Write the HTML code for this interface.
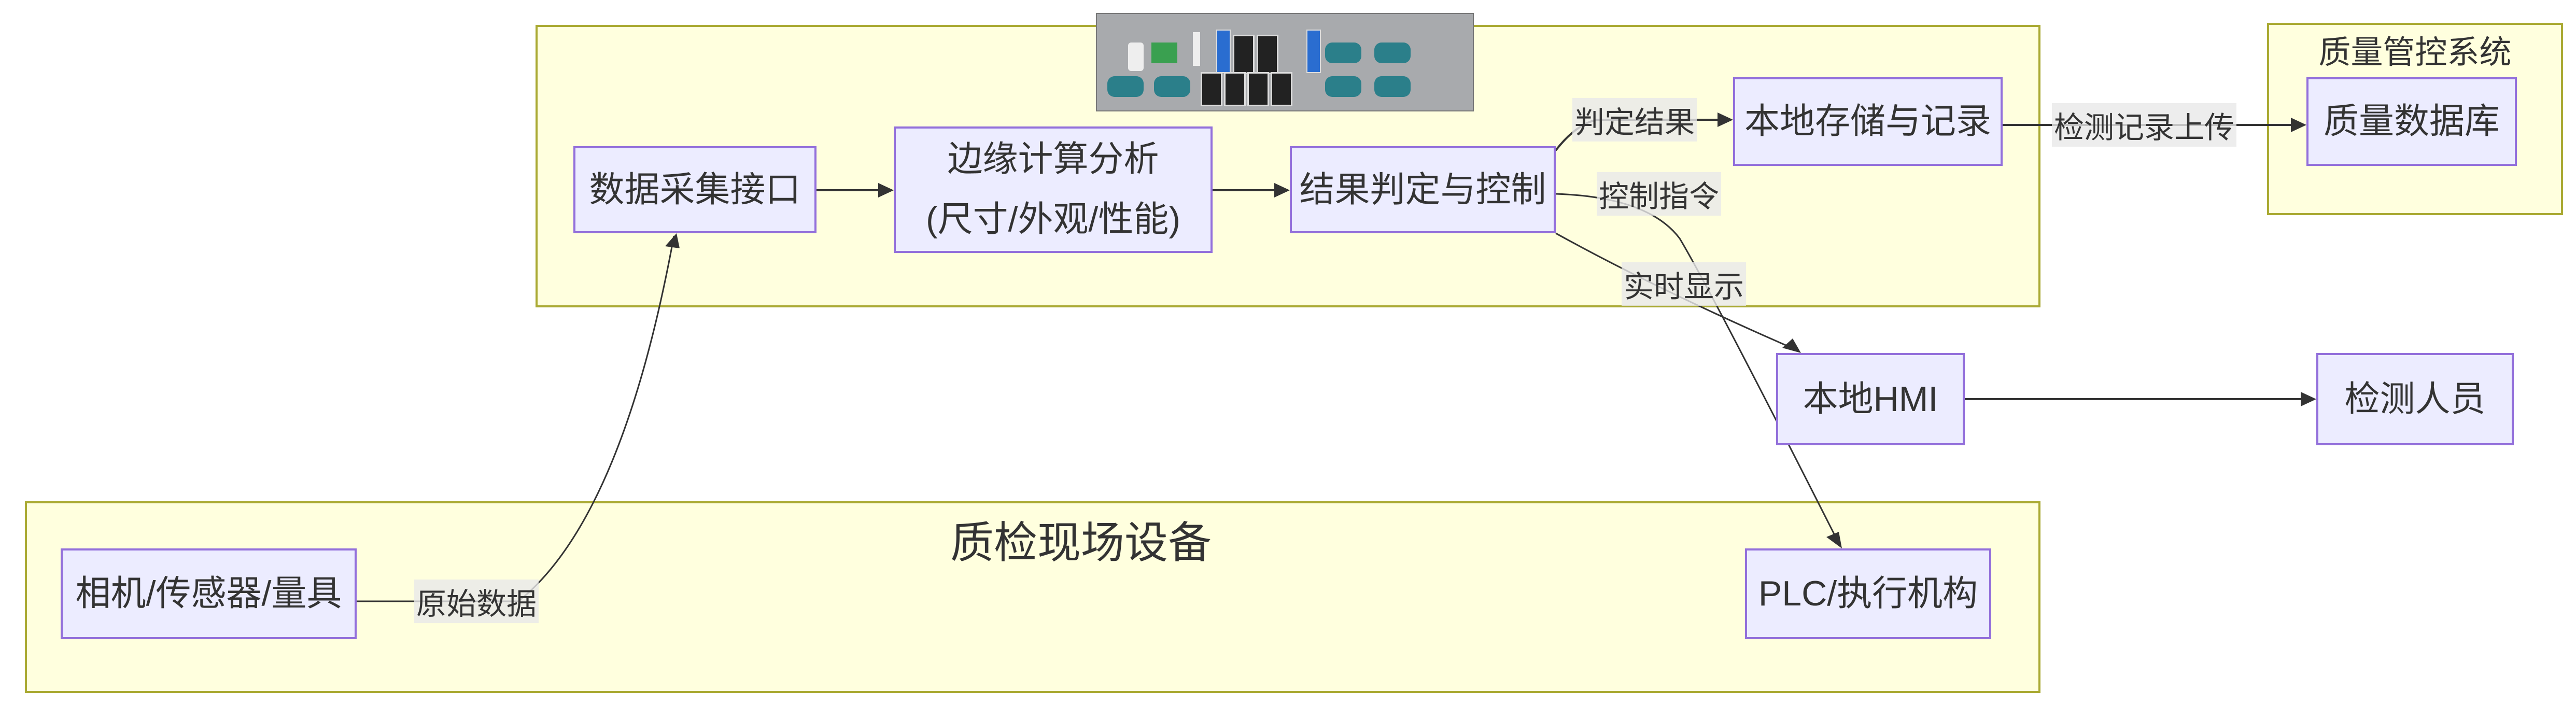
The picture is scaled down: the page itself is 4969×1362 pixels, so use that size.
<!DOCTYPE html>
<html><head><meta charset="utf-8"><style>
body{margin:0;width:4969px;height:1362px;background:#fff;position:relative;overflow:hidden;font-family:"Liberation Sans","Noto Sans CJK SC",sans-serif;color:#333}
.c{position:absolute;background:#ffffde;border:4px solid #aaaa33;box-sizing:border-box}
.n{position:absolute;background:#ececff;border:4px solid #9370db;box-sizing:border-box;display:flex;align-items:center;justify-content:center;text-align:center;font-size:68px;line-height:1.6;color:#333;white-space:nowrap}
.l{position:absolute;font-size:58px;background:rgba(232,232,232,0.8);padding:0 4px;transform:translate(-50%,-50%);white-space:nowrap;color:#333}
</style></head><body>
<div class="c" style="left:1033px;top:48px;width:2903px;height:545px"></div>
<div class="c" style="left:4373px;top:44px;width:571px;height:371px"></div>
<div class="c" style="left:48px;top:967px;width:3888px;height:370px"></div>
<div style="position:absolute;left:4373px;top:50px;width:571px;text-align:center;font-size:62px">质量管控系统</div>
<div style="position:absolute;left:1400px;top:980px;width:1370px;text-align:center;font-size:84px">质检现场设备</div>

<svg style="position:absolute;left:0;top:0" width="4969" height="1362">
<g fill="none" stroke="#333" stroke-width="4">
<path d="M1575,367H1720"/>
<path d="M2339,367H2484"/>
<path d="M3863,241H4445"/>
<path d="M3790,770H4464"/>
<path d="M3001,290Q3040,240 3080,231H3339"/>
</g>
<g fill="none" stroke="#333" stroke-width="3">
<path d="M688,1160H1000Q1200,1000 1300,455"/>
<path d="M3001,374Q3180,380 3240,460Q3300,560 3550,1054"/>
<path d="M3001,450Q3200,560 3470,677"/>
</g>
<g fill="#333">
<path d="M1724,367l-30,-14v28z"/>
<path d="M2488,367l-30,-14v28z"/>
<path d="M3343,231l-30,-14v28z"/>
<path d="M4449,241l-30,-14v28z"/>
<path d="M4468,770l-30,-14v28z"/>
<path d="M1305,450l-22,25l28,4z"/>
<path d="M3553,1058l-6,-32l-24,10z"/>
<path d="M3474,681l-16,-28l-20,18z"/>
</g>
</svg>

<div style="position:absolute;left:2114px;top:25px;width:729px;height:190px;background:#a8aaad;border:2px solid #777;box-sizing:border-box">
<div style="position:absolute;left:60px;top:55px;width:30px;height:55px;background:#eee;border-radius:6px"></div>
<div style="position:absolute;left:105px;top:55px;width:50px;height:40px;background:#3aa050"></div>
<div style="position:absolute;left:185px;top:35px;width:14px;height:65px;background:#eee"></div>
<div style="position:absolute;left:230px;top:30px;width:24px;height:80px;background:#2a6dd0;border:2px solid #ddd"></div>
<div style="position:absolute;left:262px;top:40px;width:36px;height:70px;background:#222;border:3px solid #ddd"></div>
<div style="position:absolute;left:308px;top:40px;width:36px;height:70px;background:#222;border:3px solid #ddd"></div>
<div style="position:absolute;left:404px;top:30px;width:24px;height:80px;background:#2a6dd0;border:2px solid #ddd"></div>
<div style="position:absolute;left:440px;top:55px;width:70px;height:40px;background:#2b7f8a;border-radius:14px"></div>
<div style="position:absolute;left:535px;top:55px;width:70px;height:40px;background:#2b7f8a;border-radius:14px"></div>
<div style="position:absolute;left:20px;top:120px;width:70px;height:40px;background:#2b7f8a;border-radius:14px"></div>
<div style="position:absolute;left:110px;top:120px;width:70px;height:40px;background:#2b7f8a;border-radius:14px"></div>
<div style="position:absolute;left:200px;top:112px;width:36px;height:60px;background:#222;border:3px solid #ddd"></div>
<div style="position:absolute;left:245px;top:112px;width:36px;height:60px;background:#222;border:3px solid #ddd"></div>
<div style="position:absolute;left:290px;top:112px;width:36px;height:60px;background:#222;border:3px solid #ddd"></div>
<div style="position:absolute;left:335px;top:112px;width:36px;height:60px;background:#222;border:3px solid #ddd"></div>
<div style="position:absolute;left:440px;top:120px;width:70px;height:40px;background:#2b7f8a;border-radius:14px"></div>
<div style="position:absolute;left:535px;top:120px;width:70px;height:40px;background:#2b7f8a;border-radius:14px"></div>
</div>

<div class="n" style="left:1106px;top:282px;width:469px;height:168px">数据采集接口</div>
<div class="n" style="left:1724px;top:244px;width:615px;height:244px;line-height:1.7">边缘计算分析<br>(尺寸/外观/性能)</div>
<div class="n" style="left:2488px;top:282px;width:513px;height:168px">结果判定与控制</div>
<div class="n" style="left:3343px;top:149px;width:520px;height:171px">本地存储与记录</div>
<div class="n" style="left:4449px;top:149px;width:406px;height:171px">质量数据库</div>
<div class="n" style="left:3426px;top:681px;width:364px;height:178px">本地HMI</div>
<div class="n" style="left:4468px;top:681px;width:381px;height:178px">检测人员</div>
<div class="n" style="left:117px;top:1058px;width:571px;height:175px">相机/传感器/量具</div>
<div class="n" style="left:3366px;top:1058px;width:475px;height:175px">PLC/执行机构</div>

<div class="l" style="left:3153px;top:231px">判定结果</div>
<div class="l" style="left:4136px;top:241px">检测记录上传</div>
<div class="l" style="left:3200px;top:374px">控制指令</div>
<div class="l" style="left:3248px;top:548px">实时显示</div>
<div class="l" style="left:919px;top:1160px">原始数据</div>
</body></html>
